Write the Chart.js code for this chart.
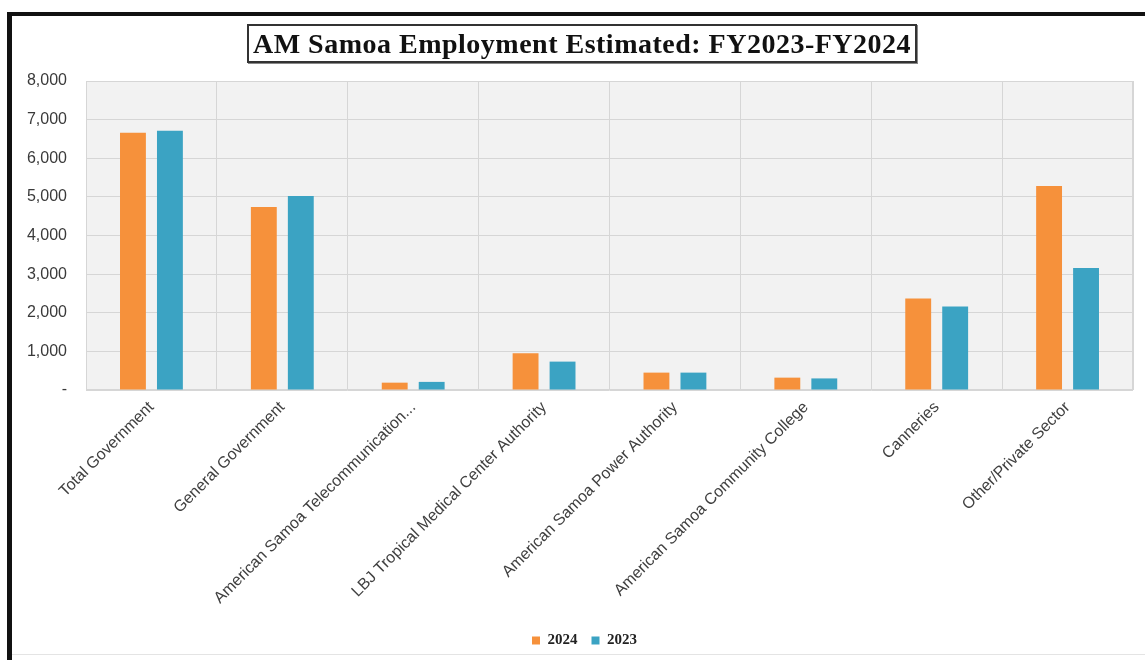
<!DOCTYPE html>
<html>
<head>
<meta charset="utf-8">
<script src="https://cdn.jsdelivr.net/npm/chart.js@4/dist/chart.umd.min.js"></script>
<style>
  html, body { margin: 0; padding: 0; background: #fff; }
  #wrap { position: relative; width: 1145px; height: 660px; overflow: hidden; }
  #chart { position: absolute; left: 0; top: 0; }
  .frame-top { position: absolute; left: 7px; top: 12px; width: 1138px; height: 4px; background: #111; }
  .frame-left { position: absolute; left: 7px; top: 12px; width: 5px; height: 648px; background: #111; }
  .frame-bottom { position: absolute; left: 12px; top: 654px; width: 1133px; height: 1px; background: #e4e4e4; }
  #title {
    position: absolute; left: 247px; top: 24px; width: 666px; height: 35px;
    border: 2px solid #333; box-shadow: 1px 1px 0 #888;
    font-family: "Liberation Serif", "Times New Roman", serif; font-weight: bold;
    font-size: 28px; letter-spacing: 0.5px; line-height: 36px; text-align: center; color: #111;
  }
</style>
</head>
<body>
<div id="wrap">
  <canvas id="chart" width="1145" height="660"></canvas>
  <div class="frame-top"></div>
  <div class="frame-left"></div>
  <div class="frame-bottom"></div>
  <div id="title">AM Samoa Employment Estimated: FY2023-FY2024</div>
</div>
<script>
// ── data ────────────────────────────────────────────────────────────────────
var categories = [
  'Total Government',
  'General Government',
  'American Samoa Telecommunication...',
  'LBJ Tropical Medical Center Authority',
  'American Samoa Power Authority',
  'American Samoa Community College',
  'Canneries',
  'Other/Private Sector'
];
var fy2024 = [6660, 4740, 190, 950, 450, 320, 2370, 5280];
var fy2023 = [6710, 5020, 210, 735, 450, 300, 2160, 3160];
var yTicks = [0, 1000, 2000, 3000, 4000, 5000, 6000, 7000, 8000];

var ORANGE = '#F6913B';
var TEAL = '#3BA3C3';
var GRID = '#d6d6d6';

// Light gray plot area, like the spreadsheet chart.
var plotBg = {
  id: 'plotBg',
  beforeDraw: function(chart) {
    var a = chart.chartArea, ctx = chart.ctx;
    ctx.save();
    ctx.fillStyle = '#f2f2f2';
    ctx.fillRect(a.left, a.top, a.right - a.left, a.bottom - a.top);
    ctx.strokeStyle = GRID;
    ctx.lineWidth = 1;
    ctx.strokeRect(a.left + 0.5, a.top + 0.5, a.right - a.left - 1, a.bottom - a.top - 1);
    ctx.restore();
  }
};

// The original legend sits a little right of the canvas centre.
var legendNudge = {
  id: 'legendNudge',
  afterLayout: function(chart) {
    if (!chart.legend) return;
    chart.legend.left += 11;
    chart.legend.right += 11;
  }
};

new Chart(document.getElementById('chart'), {
  type: 'bar',
  data: {
    labels: categories,
    datasets: [
      { label: '2024', data: fy2024, backgroundColor: ORANGE, categoryPercentage: 0.565, barPercentage: 0.7 },
      { label: '2023', data: fy2023, backgroundColor: TEAL, categoryPercentage: 0.565, barPercentage: 0.7 }
    ]
  },
  options: {
    responsive: false,
    animation: false,
    layout: { padding: { top: 81, left: 14, right: 12, bottom: 2 } },
    plugins: {
      title: { display: false },
      tooltip: { enabled: false },
      legend: {
        position: 'bottom',
        labels: {
          boxWidth: 8, boxHeight: 8, padding: 14, color: '#222',
          font: { family: 'Liberation Serif', weight: 'bold', size: 15 }
        }
      }
    },
    scales: {
      x: {
        grid: { color: GRID, drawTicks: false, offset: true },
        border: { display: false },
        ticks: {
          minRotation: 45, maxRotation: 45, autoSkip: false, padding: 8,
          color: '#404040', font: { family: 'Liberation Sans', size: 16 }
        },
        afterFit: function(s) { s.height = 229; }
      },
      y: {
        min: 0, max: 8000,
        afterBuildTicks: function(s) { s.ticks = yTicks.map(function(v) { return { value: v }; }); },
        grid: { color: GRID, drawTicks: false },
        border: { display: false },
        ticks: {
          padding: 19, color: '#3a3a3a', font: { family: 'Liberation Sans', size: 16 },
          callback: function(v) { return v === 0 ? '-' : v.toLocaleString('en-US'); }
        },
        afterFit: function(s) { s.width = 72; }
      }
    }
  },
  plugins: [plotBg, legendNudge]
});
</script>
</body>
</html>
